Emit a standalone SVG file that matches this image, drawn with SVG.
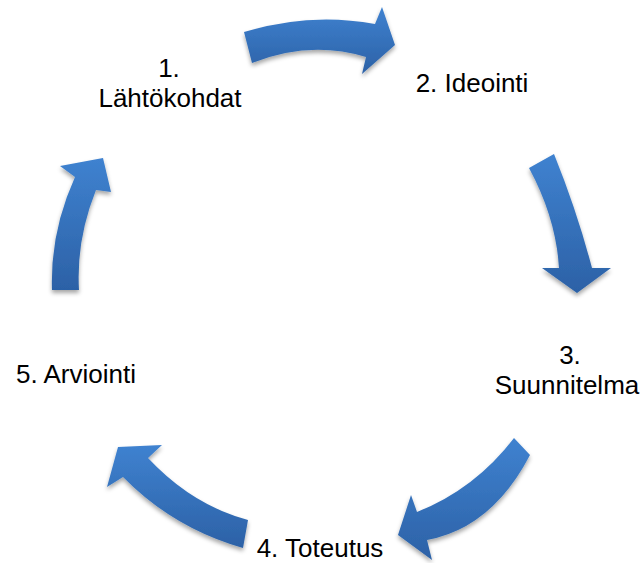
<svg xmlns="http://www.w3.org/2000/svg" width="643" height="563" viewBox="0 0 643 563">
<style>
.lbl{font-family:"Liberation Sans",Arial,sans-serif;font-size:26px;fill:#000;text-anchor:middle}
.arr{fill:url(#g);filter:url(#sh)}
</style>
<defs>
<linearGradient id="g" x1="0" y1="0" x2="0" y2="1">
<stop offset="0" stop-color="#3f82d0"/>
<stop offset="1" stop-color="#2c61a6"/>
</linearGradient>
<filter id="sh" x="-20%" y="-20%" width="140%" height="150%">
<feDropShadow dx="0" dy="3" stdDeviation="2" flood-color="#000" flood-opacity="0.35"/>
</filter>
</defs>
<rect width="643" height="563" fill="#fff"/>
<g id="connectors">
<path id="a1" class="arr" d="M244,32 Q310,12 375,24 L382,7 L395,45 L362,74 L366,57 Q310,40 252,63 Z"/>
<path id="a2" class="arr" d="M529,168 Q556,218 559,268 L542,268 L577,293 L611,268 L592,268 Q577,211 554,154 Z"/>
<path id="a3" class="arr" d="M514,438 Q475,489 417,512 L411,495 L398,535 L432,560 L427,540 Q492,528 530,455 Z"/>
<path id="a4" class="arr" d="M248,520 Q192,505 148,458 L162,445 L118,447 L107,487 L123,477 Q173,528 243,548 Z"/>
<path id="a5" class="arr" d="M52,290 Q50,232 75,177 L60,166 L103,158 L111,192 L96,190 Q76,240 79,290 Z"/>
</g>
<g id="n1"><text class="lbl" x="169" y="77">1.</text><text class="lbl" x="170" y="107">Lähtökohdat</text></g>
<g id="n2"><text class="lbl" x="472" y="92">2. Ideointi</text></g>
<g id="n3"><text class="lbl" x="570" y="364">3.</text><text class="lbl" x="567" y="394">Suunnitelma</text></g>
<g id="n4"><text class="lbl" x="320" y="557">4. Toteutus</text></g>
<g id="n5"><text class="lbl" x="76" y="383">5. Arviointi</text></g>
</svg>
